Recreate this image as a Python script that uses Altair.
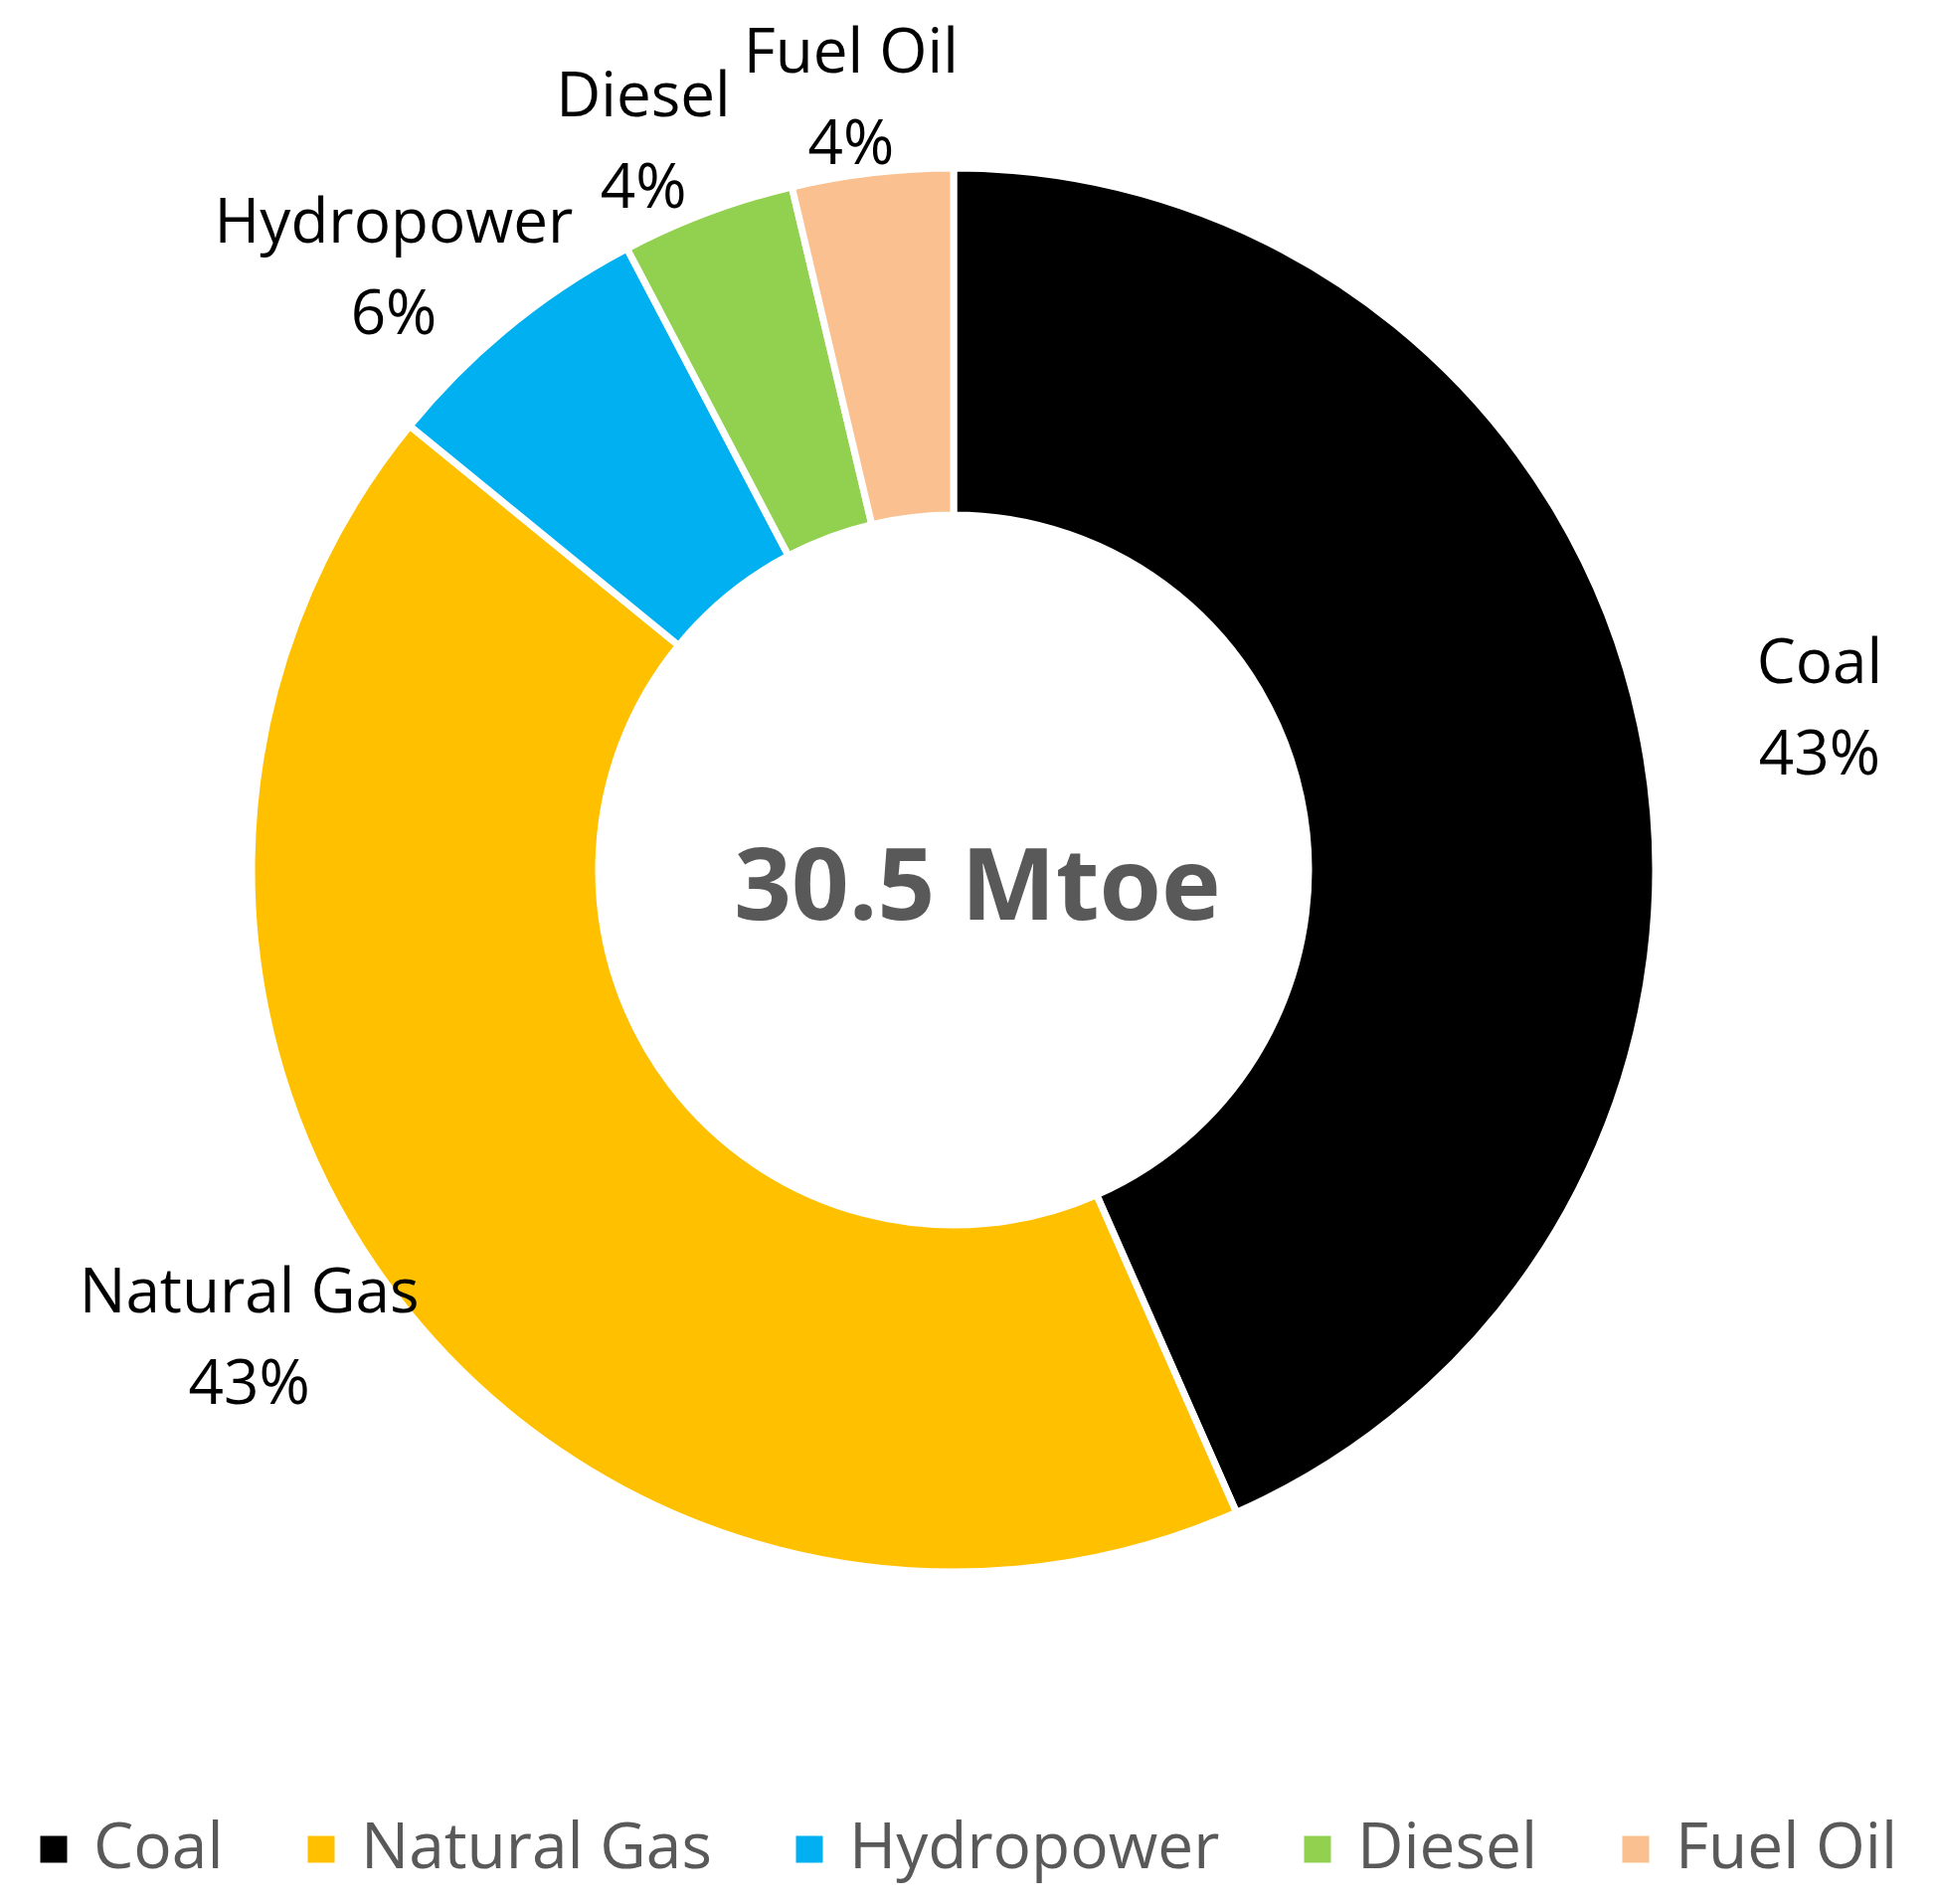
import altair as alt
import pandas as pd

categories = ["Coal", "Natural Gas", "Hydropower", "Diesel", "Fuel Oil"]
shares = [43.4, 42.5, 6.4, 4.0, 3.7]
colors = ["#000000", "#FFC000", "#00B0F0", "#92D050", "#FAC090"]
center_label = ["30.5 Mtoe"]

df = pd.DataFrame({"source": categories, "value": shares, "order": list(range(len(categories)))})
cdf = pd.DataFrame({"t": center_label})

FONT = "Open Sans"
CX, CY = 951, 867
RX, RY = 890, 780

color_scale = alt.Scale(domain=categories, range=colors)

arc = alt.Chart(df).mark_arc(innerRadius=357, outerRadius=706, stroke="white", strokeWidth=7).encode(
    theta=alt.Theta("value:Q", stack=True),
    order=alt.Order("order:Q"),
    x=alt.value(CX), y=alt.value(CY),
    color=alt.Color("source:N", scale=color_scale, sort=categories,
                    legend=alt.Legend(title=None, orient="none", direction="horizontal",
                                      legendX=14, legendY=1820,
                                      symbolType="square", symbolSize=729,
                                      symbolStrokeWidth=0,
                                      labelFont=FONT, labelFontSize=64, labelColor="#595959",
                                      labelOffset=8, columnPadding=66, labelLimit=600)),
)

lab_base = alt.Chart(df).transform_joinaggregate(
    total="sum(value)"
).transform_window(
    cum="sum(value)", sort=[alt.SortField("order")], frame=[None, 0]
).transform_calculate(
    mid="(datum.cum - datum.value / 2) / datum.total * 2 * PI",
    lx=f"{CX} + {RX} * sin(datum.mid)",
    ly=f"{CY} - {RY} * cos(datum.mid)",
    pct="format(datum.value, '.0f') + '%'",
).encode(
    x=alt.X("lx:Q", scale=None, axis=None),
    y=alt.Y("ly:Q", scale=None, axis=None),
)

name_txt = lab_base.mark_text(font=FONT, fontSize=62, color="#000000", dy=-46).encode(text="source:N")
pct_txt = lab_base.mark_text(font=FONT, fontSize=62, color="#000000", dy=46).encode(text="pct:N")

center = alt.Chart(cdf).mark_text(font=FONT, fontSize=101, fontWeight="bold", color="#595959").encode(
    x=alt.value(CX + 24), y=alt.value(CY + 20), text="t:N")

chart = alt.layer(arc, name_txt, pct_txt, center).properties(
    width=1930, height=1899,
    autosize=alt.AutoSizeParams(type="none"),
    padding=0,
).configure_view(stroke=None)

chart.save("out.html", embed_options={"renderer": "svg", "actions": False})
